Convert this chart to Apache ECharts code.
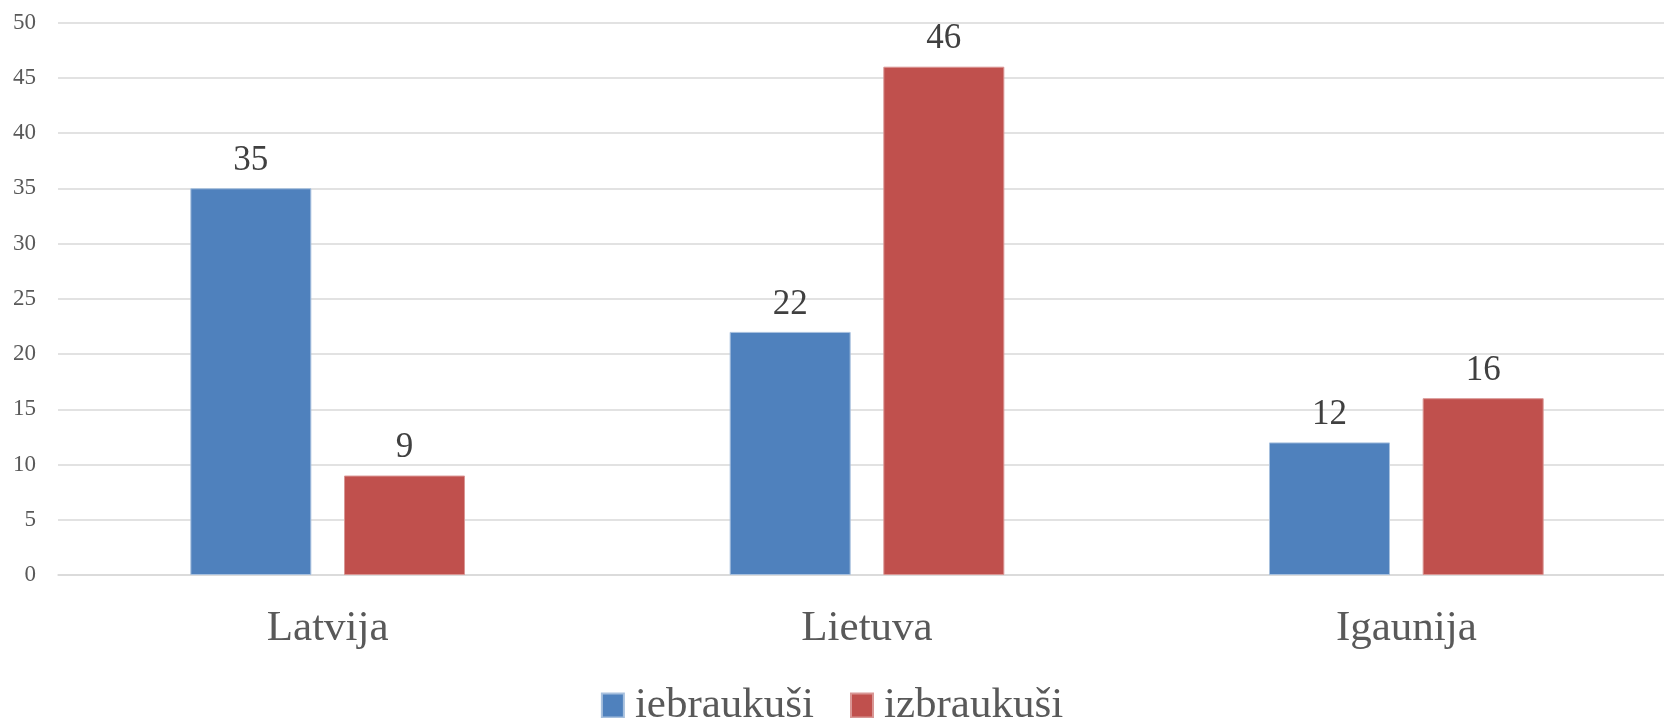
<!DOCTYPE html>
<html>
<head>
<meta charset="utf-8">
<script src="https://cdn.jsdelivr.net/npm/echarts@6/dist/echarts.min.js"></script>
<style>
  html, body { margin: 0; padding: 0; background: #fff; }
  #main { width: 1664px; height: 718px; }
</style>
</head>
<body>
<div id="main"></div>
<script>
// dati
var countries = ["Latvija", "Lietuva", "Igaunija"];
var seriesNames = ["iebraukuši", "izbraukuši"];
var iebraukusi = [35, 22, 12];
var izbraukusi = [9, 46, 16];
var colors = ["#4f81bd", "#c0504d"];
var serifFont = "'Liberation Serif', 'Times New Roman', serif";

var chart = echarts.init(document.getElementById("main"));

function makeBar(name, data, color, border) {
    return {
        name: name,
        type: "bar",
        data: data,
        barWidth: 121,
        barGap: "27%",
        itemStyle: { color: color, borderColor: border, borderWidth: 1 },
        label: {
            show: true,
            position: "top",
            distance: 10,
            color: "#404040",
            fontFamily: serifFont,
            fontSize: 35
        }
    };
}

var option = {
    animation: false,
    backgroundColor: "#ffffff",
    // grafiks iziet ārpus labās malas, tāpēc right ir negatīvs
    grid: { left: 58, right: -12, top: 22.5, bottom: 143, outerBoundsMode: "none" },
    legend: {
        data: seriesNames,
        top: 679,
        left: "center",
        icon: "rect",
        itemWidth: 22,
        itemHeight: 24,
        itemGap: 36,
        textStyle: { color: "#595959", fontFamily: serifFont, fontSize: 43, padding: [0, 0, 0, 6] }
    },
    xAxis: {
        type: "category",
        data: countries,
        axisLine: { lineStyle: { color: "#d9d9d9", width: 1.5 } },
        axisTick: { show: false },
        axisLabel: { color: "#595959", fontFamily: serifFont, fontSize: 43, margin: 32 }
    },
    yAxis: {
        type: "value",
        min: 0,
        max: 50,
        interval: 5,
        axisLine: { show: false },
        axisTick: { show: false },
        splitLine: { lineStyle: { color: "#d9d9d9", width: 1.5 } },
        axisLabel: { color: "#595959", fontFamily: serifFont, fontSize: 23, margin: 22 }
    },
    series: [
        makeBar(seriesNames[0], iebraukusi, colors[0], "#a7c0de"),
        makeBar(seriesNames[1], izbraukusi, colors[1], "#d99694")
    ]
};

chart.setOption(option);
</script>
</body>
</html>
